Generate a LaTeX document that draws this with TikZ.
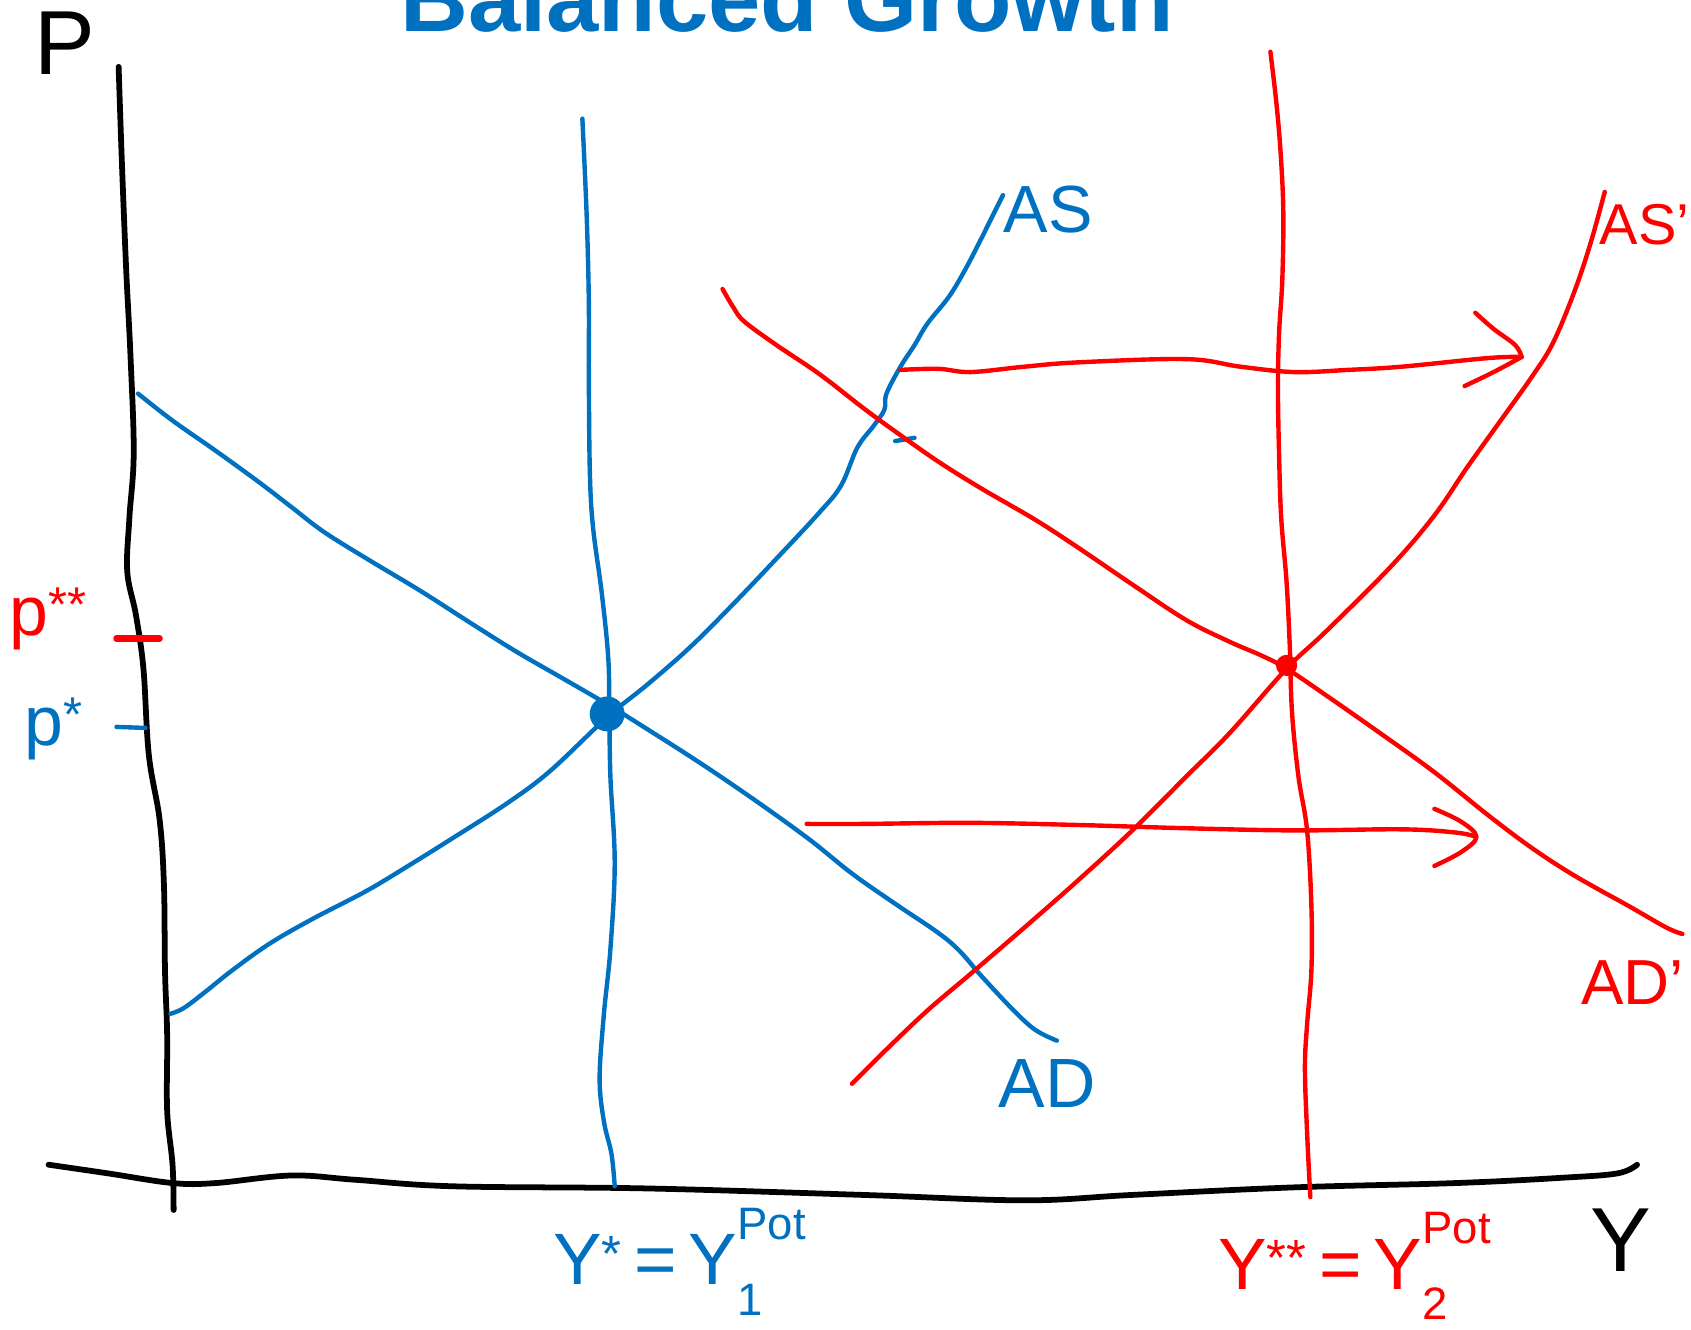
\documentclass[tikz,border=0pt]{standalone}
\usepackage{fontspec}
\setmainfont{Liberation Sans}
\definecolor{penblue}{HTML}{0070C0}
\definecolor{penred}{HTML}{FF0000}
\newcommand{\potlabel}[2]{Y\textsuperscript{#1}\,=\,Y\rlap{\raisebox{-0.42em}{\fontsize{30}{30}\selectfont #2}}\raisebox{0.62em}{\fontsize{30}{30}\selectfont Pot}}
\tikzset{
  axisline/.style={black, line width=3.8pt, line cap=round, line join=round},
  blueline/.style={penblue, line width=2.9pt, line cap=round, line join=round},
  redline/.style={penred, line width=2.9pt, line cap=round, line join=round},
  bluelabel/.style={penblue, inner sep=0pt, font=\fontsize{46}{50}\selectfont},
  redlabel/.style={penred, inner sep=0pt, font=\fontsize{46}{50}\selectfont},
  blacklabel/.style={black, inner sep=0pt, font=\fontsize{60}{66}\selectfont},
}
\begin{document}
\begin{tikzpicture}[x=0.025cm, y=-0.025cm]
\useasboundingbox (0,0) rectangle (1568,1233);
\clip (0,0) rectangle (1568,1233);
\fill[white] (0,0) rectangle (1568,1233);

% title (clipped at the top, as in the reference)
\node[anchor=base west, inner sep=0pt, penblue, font=\fontsize{62}{70}\selectfont\bfseries] (title) at (371,29) {Balanced Growth};

% axes
\draw[axisline] plot[smooth, tension=0.6] coordinates {(110,62) (113,150) (117,250) (121,330) (124,420) (120,480) (118,530) (126,570) (133,620) (138,700) (148,760) (152,820) (153,900) (155,960) (155,1030) (160,1080) (161,1122)};
\draw[axisline] plot[smooth, tension=0.6] coordinates {(45,1080) (100,1088) (160,1097) (200,1097) (270,1090) (330,1094) (420,1100) (600,1102) (800,1108) (950,1113) (1050,1108) (1200,1101) (1350,1097) (1450,1092) (1500,1088) (1518,1080)};
\node[blacklabel] (plabel) at (60,40) {P};
\node[blacklabel] (ylabel) at (1503,1150) {Y};

% blue: potential output line
\draw[blueline] plot[smooth, tension=0.6] coordinates {(540,110) (544,200) (546,280) (546,350) (547,440) (550,490) (558,550) (564,610) (565,660) (566,720) (570,800) (566,880) (560,940) (556,1000) (560,1040) (567,1070) (570,1100)};
% blue AD
\draw[blueline] plot[smooth, tension=0.6] coordinates {(128,365) (160,390) (200,418) (240,447) (270,470) (300,493) (340,518) (390,548) (440,580) (480,605) (520,628) (563,653) (600,676) (650,708) (700,742) (750,778) (790,810) (830,838) (870,865) (890,882) (910,905) (940,937) (960,955) (980,965)};
% blue AS
\draw[blueline] plot[smooth, tension=0.6] coordinates {(158,940) (170,935) (190,920) (215,900) (250,875) (290,852) (340,826) (380,802) (420,777) (470,745) (510,715) (563,665) (600,635) (640,600) (680,560) (720,518) (760,475) (780,450) (795,415) (810,395) (820,380) (822,365) (835,340) (848,320) (860,300) (880,275) (895,250) (908,225) (918,205) (930,181)};
\draw[blueline] (830,409) -- (848,406);
\node[circle, fill=penblue, inner sep=0pt, minimum size=23pt] (e1) at (563,662) {};
% blue tick and labels
\draw[blueline] (108,674) -- (135,675);
\node[bluelabel] (pstar) at (50,676) {p\textsuperscript{*}};
\node[bluelabel, font=\fontsize{44}{48}\selectfont] (aslabel) at (972,194) {AS};
\node[bluelabel] (adlabel) at (971,1005) {AD};
\node[bluelabel, font=\fontsize{48}{52}\selectfont] (ypot1) at (630,1170) {\potlabel{*}{1}};

% red: new potential output line
\draw[redline] plot[smooth, tension=0.6] coordinates {(1178,48) (1184,100) (1188,150) (1190,200) (1189,260) (1186,310) (1185,360) (1186,420) (1188,480) (1193,540) (1196,600) (1198,660) (1204,720) (1212,770) (1216,840) (1216,900) (1212,950) (1210,990) (1212,1050) (1215,1110)};
% red AD'
\draw[redline] plot[smooth, tension=0.6] coordinates {(670,268) (680,285) (690,298) (720,320) (760,347) (800,378) (830,400) (870,428) (910,453) (960,482) (1000,508) (1050,542) (1100,575) (1140,595) (1170,608) (1193,620) (1230,645) (1280,680) (1330,716) (1380,756) (1420,786) (1460,812) (1510,840) (1545,860) (1560,866)};
% red AS'
\draw[redline] plot[smooth, tension=0.6] coordinates {(790,1005) (820,975) (860,937) (900,903) (950,860) (1000,816) (1050,770) (1100,720) (1140,680) (1193,620) (1230,585) (1290,525) (1330,478) (1360,434) (1390,392) (1420,350) (1440,318) (1460,270) (1475,225) (1488,178)};
\node[circle, fill=penred, inner sep=0pt, minimum size=14pt] (e2) at (1193,617) {};

% red shift arrows
\coordinate (a1s) at (835,343);
\coordinate (a1e) at (1411,331);
\draw[redline] plot[smooth, tension=0.6] coordinates {(a1s) (870,342) (900,345) (950,340) (1000,336) (1100,333) (1150,340) (1200,345) (1250,343) (1300,340) (1380,332) (a1e)};
\draw[redline] plot[smooth, tension=0.6] coordinates {(1368,290) (1385,305) (1405,320) (a1e)};
\draw[redline] plot[smooth, tension=0.6] coordinates {(a1e) (1385,345) (1358,358)};
\coordinate (a2s) at (748,764);
\coordinate (a2e) at (1369,776);
\draw[redline] plot[smooth, tension=0.6] coordinates {(a2s) (800,764) (900,763) (1000,765) (1100,768) (1200,770) (1300,769) (1350,772) (a2e)};
\draw[redline] plot[smooth, tension=0.6] coordinates {(1330,750) (1355,762) (a2e) (1355,790) (1330,803)};

% red tick and labels
\draw[redline, line width=4.2pt] (108,592) -- (148,592);
\node[redlabel] (pstarstar) at (45,574) {p\textsuperscript{**}};
\node[redlabel, font=\fontsize{38}{42}\selectfont] (asplabel) at (1525,208) {AS'};
\node[redlabel, font=\fontsize{42}{46}\selectfont] (adplabel) at (1514,911) {AD'};
\node[redlabel, font=\fontsize{48}{52}\selectfont] (ypot2) at (1256,1174) {\potlabel{**}{2}};
\end{tikzpicture}
\end{document}
